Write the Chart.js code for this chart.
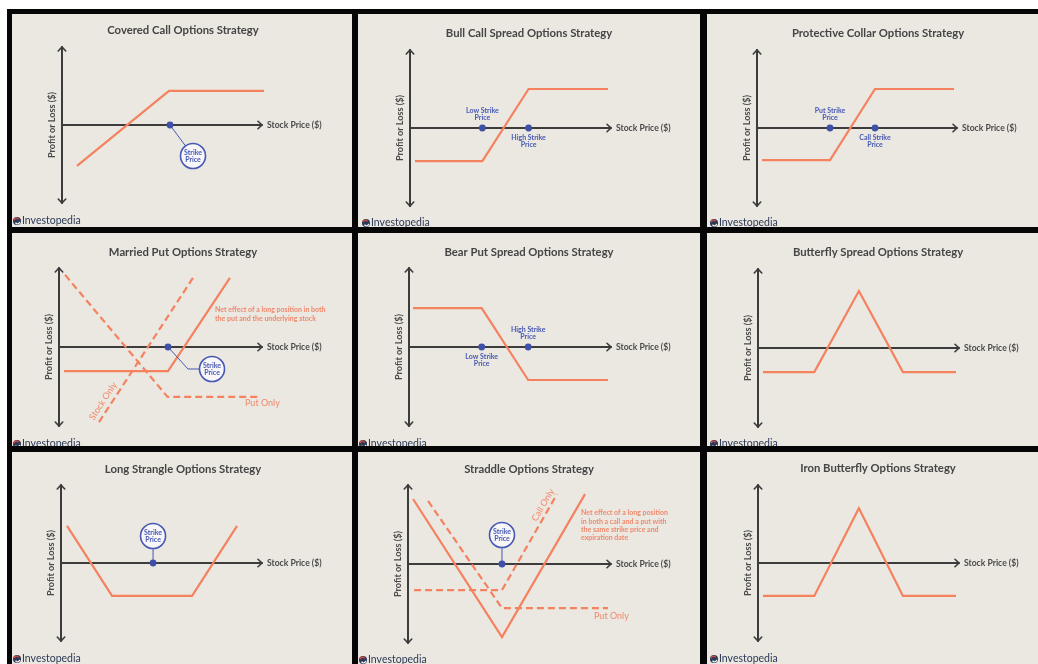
<!DOCTYPE html>
<html>
<head>
<meta charset="utf-8">
<script src="https://cdn.jsdelivr.net/npm/chart.js@4.4.0/dist/chart.umd.min.js"></script>
<style>
  html, body { margin: 0; padding: 0; background: #fff; overflow: hidden; }
  body { width: 1038px; height: 664px; position: relative; }
  #frame { position: absolute; left: 7px; top: 9px; right: 0; bottom: 0; background: #060606; }
  .panel { position: absolute; overflow: hidden; background: #ebe7e1; }
  .panel canvas { display: block; }
</style>
</head>
<body>
<div id="frame"></div>
<script>
// x: stock price (0 = y axis, 100 = arrow tip), y: profit or loss (0 = x axis)
const titles = [
  "Covered Call Options Strategy", "Bull Call Spread Options Strategy", "Protective Collar Options Strategy",
  "Married Put Options Strategy", "Bear Put Spread Options Strategy", "Butterfly Spread Options Strategy",
  "Long Strangle Options Strategy", "Straddle Options Strategy", "Iron Butterfly Options Strategy"
];

const coveredCallX = [7.5, 53.5, 101];
const coveredCallY = [-21, 17.5, 17.5];
const coveredCallStrikes = [54];

const bullCallX = [2.5, 36, 59, 98.5];
const bullCallY = [-17, -17, 20, 20];
const bullCallStrikes = [36, 59];

const collarX = [2.5, 36.5, 59, 98.5];
const collarY = [-16.5, -16.5, 20, 20];
const collarStrikes = [36.5, 59];

const marriedPutX = [2.5, 53.7, 84.2];
const marriedPutY = [-12.2, -12.2, 35];
const putOnlyX = [3, 53.5, 99];
const putOnlyY = [36.5, -25.3, -25.3];
const stockOnlyX = [19.7, 66];
const stockOnlyY = [-38, 35];
const marriedPutStrikes = [53.7];

const bearPutX = [2, 36, 59, 98.5];
const bearPutY = [19.7, 19.7, -16.7, -16.7];
const bearPutStrikes = [36, 59];

const butterflyX = [2.5, 28, 50.2, 72.1, 98.5];
const butterflyY = [-12.2, -12.2, 28.9, -12.2, -12.2];

const strangleX = [3, 25.4, 65.2, 87.6];
const strangleY = [19, -16.9, -16.9, 19];
const strangleStrikes = [45.8];

const straddleX = [2.5, 46.3, 87.2];
const straddleY = [32.9, -37, 35.4];
const straddlePutX = [9.9, 46.3, 98.5];
const straddlePutY = [31.9, -22.3, -22.3];
const straddleCallX = [3, 46.3, 73.4];
const straddleCallY = [-13.2, -13.2, 35.4];
const straddleStrikes = [46.3];

const ironFlyX = [2.5, 28, 50.2, 72.1, 98.5];
const ironFlyY = [-16.9, -16.9, 28.1, -16.9, -16.9];

const ORANGE = "#f4825f";
const NOTE = "#f0896c";
const BLUE = "#3f50a8";
const BLUE_TXT = "#4859b4";
const AXIS = "#3c3c3c";
const FONT = "Lato, 'Open Sans', sans-serif";

// panel rect [left, top, w, h], axes [yAxisX, arrowEnd, topTip, bottomTip] in page px
const panels = [
  { rect: [12, 14, 340, 213], axes: [62, 262, 47, 203], titleY: 16, logo: [5, 207],
    series: [[coveredCallX, coveredCallY]],
    strikes: [{ x: coveredCallStrikes[0], callout: [[23, 31]] }] },
  { rect: [358, 14, 342, 213], axes: [410, 611, 50, 206], titleY: 19, logo: [8, 209],
    series: [[bullCallX, bullCallY]],
    strikes: [{ x: bullCallStrikes[0], text: ["Low Strike", "Price"], above: true },
              { x: bullCallStrikes[1], text: ["High Strike", "Price"], above: false }] },
  { rect: [707, 14, 331, 213], axes: [757, 957, 50, 206], titleY: 19, logo: [7, 209],
    series: [[collarX, collarY]],
    strikes: [{ x: collarStrikes[0], text: ["Put Strike", "Price"], above: true },
              { x: collarStrikes[1], text: ["Call Strike", "Price"], above: false }] },
  { rect: [12, 233, 340, 213], axes: [59, 262, 268, 426], titleY: 19, logo: [5, 211],
    series: [[marriedPutX, marriedPutY], [putOnlyX, putOnlyY, true], [stockOnlyX, stockOnlyY, true]],
    strikes: [{ x: marriedPutStrikes[0], callout: [[20, 22], [44, 22]] }],
    notes: [{ at: [203, 77], lines: ["Net effect of a long position in both", "the put and the underlying stock"] }],
    tags: [{ text: "Put Only", at: [233, 170] }, { text: "Stock Only", at: [91, 168], rot: -57 }] },
  { rect: [358, 233, 342, 213], axes: [409, 611, 268, 426], titleY: 19, logo: [5, 211],
    series: [[bearPutX, bearPutY]],
    strikes: [{ x: bearPutStrikes[0], text: ["Low Strike", "Price"], above: false },
              { x: bearPutStrikes[1], text: ["High Strike", "Price"], above: true }] },
  { rect: [707, 233, 331, 213], axes: [758, 959, 269, 427], titleY: 19, logo: [7, 211],
    series: [[butterflyX, butterflyY]], strikes: [] },
  { rect: [12, 452, 340, 212], axes: [61, 262, 485, 641], titleY: 17, logo: [5, 207],
    series: [[strangleX, strangleY]],
    strikes: [{ x: strangleStrikes[0], callout: [[0, -27]] }] },
  { rect: [358, 452, 342, 212], axes: [408, 611, 485, 643], titleY: 17, logo: [5, 208],
    series: [[straddleX, straddleY], [straddlePutX, straddlePutY, true], [straddleCallX, straddleCallY, true]],
    strikes: [{ x: straddleStrikes[0], callout: [[0, -29]] }],
    notes: [{ at: [223, 61], lines: ["Net effect of a long position", "in both a call and a put with", "the same strike price and", "expiration date"] }],
    tags: [{ text: "Put Only", at: [236, 164] }, { text: "Call Only", at: [185, 53], rot: -60 }] },
  { rect: [707, 452, 331, 212], axes: [758, 959, 485, 641], titleY: 16, logo: [7, 207],
    series: [[ironFlyX, ironFlyY]], strikes: [] }
];

function chevron(ctx, x, y, ang) {
  const l = 5.5, s = 0.75;
  ctx.beginPath();
  ctx.moveTo(x - l * Math.cos(ang - s), y - l * Math.sin(ang - s));
  ctx.lineTo(x, y);
  ctx.lineTo(x - l * Math.cos(ang + s), y - l * Math.sin(ang + s));
  ctx.stroke();
}

function makeDecor(p, title) {
  return {
    id: "decor",
    beforeDatasetsDraw(chart) {
      const { ctx, chartArea: a, scales } = chart;
      const y0 = scales.y.getPixelForValue(0);
      ctx.save();
      ctx.strokeStyle = AXIS;
      ctx.lineWidth = 2;
      ctx.lineCap = "round";
      ctx.beginPath();
      ctx.moveTo(a.left, a.top); ctx.lineTo(a.left, a.bottom);
      ctx.moveTo(a.left, y0); ctx.lineTo(a.right, y0);
      ctx.stroke();
      ctx.lineWidth = 1.6;
      chevron(ctx, a.left, a.top, -Math.PI / 2);
      chevron(ctx, a.left, a.bottom, Math.PI / 2);
      chevron(ctx, a.right, y0, 0);

      ctx.fillStyle = "#454545";
      ctx.font = "700 11.3px " + FONT;
      ctx.textAlign = "center";
      ctx.textBaseline = "middle";
      ctx.fillText(title, 171, p.titleY);

      ctx.fillStyle = "#4a4a4a";
      ctx.font = "700 8.6px " + FONT;
      ctx.textAlign = "left";
      ctx.fillText("Stock Price ($)", a.right + 5, y0);
      ctx.save();
      ctx.translate(a.left - 10, y0);
      ctx.rotate(-Math.PI / 2);
      ctx.textAlign = "center";
      ctx.font = "700 9.1px " + FONT;
      ctx.fillText("Profit or Loss ($)", 0, 0);
      ctx.restore();
      ctx.restore();
    },
    afterDatasetsDraw(chart) {
      const { ctx, scales } = chart;
      const y0 = scales.y.getPixelForValue(0);
      ctx.save();
      ctx.textAlign = "center";
      ctx.textBaseline = "middle";
      p.strikes.forEach(s => {
        const px = scales.x.getPixelForValue(s.x);
        if (s.callout) {
          const pts = s.callout.map(d => [px + d[0], y0 + d[1]]);
          const c = pts[pts.length - 1];
          const r = 12.5;
          ctx.strokeStyle = BLUE_TXT;
          ctx.lineWidth = 1;
          ctx.beginPath();
          ctx.moveTo(px, y0);
          pts.forEach((q, i) => {
            if (i < pts.length - 1) ctx.lineTo(q[0], q[1]);
          });
          const prev = pts.length > 1 ? pts[pts.length - 2] : [px, y0];
          const ang = Math.atan2(c[1] - prev[1], c[0] - prev[0]);
          ctx.lineTo(c[0] - r * Math.cos(ang), c[1] - r * Math.sin(ang));
          ctx.stroke();
          ctx.fillStyle = "#f7f7f9";
          ctx.lineWidth = 1.6;
          ctx.beginPath();
          ctx.arc(c[0], c[1], r, 0, Math.PI * 2);
          ctx.fill();
          ctx.stroke();
          ctx.fillStyle = BLUE_TXT;
          ctx.font = "700 7px " + FONT;
          ctx.fillText("Strike", c[0], c[1] - 3.5);
          ctx.fillText("Price", c[0], c[1] + 3.5);
        }
        if (s.text) {
          ctx.fillStyle = BLUE_TXT;
          ctx.font = "700 7px " + FONT;
          const d = s.above ? [-17, -10] : [10, 17];
          ctx.fillText(s.text[0], px, y0 + d[0]);
          ctx.fillText(s.text[1], px, y0 + d[1]);
        }
        ctx.fillStyle = BLUE;
        ctx.beginPath();
        ctx.arc(px, y0, 3.4, 0, Math.PI * 2);
        ctx.fill();
      });

      ctx.textAlign = "left";
      (p.notes || []).forEach(n => {
        ctx.fillStyle = NOTE;
        ctx.font = "700 7px " + FONT;
        n.lines.forEach((t, i) => ctx.fillText(t, n.at[0], n.at[1] + i * 8.4));
      });
      (p.tags || []).forEach(t => {
        ctx.save();
        ctx.fillStyle = NOTE;
        ctx.font = "400 9px " + FONT;
        ctx.translate(t.at[0], t.at[1]);
        if (t.rot) {
          ctx.rotate(t.rot * Math.PI / 180);
          ctx.textAlign = "center";
        }
        ctx.fillText(t.text, 0, 0);
        ctx.restore();
      });

      // Investopedia mark
      const [lx, ly] = p.logo;
      ctx.fillStyle = "#2c3a57";
      ctx.beginPath();
      ctx.arc(lx, ly, 4, 0, Math.PI * 2);
      ctx.fill();
      ctx.strokeStyle = "#e4473d";
      ctx.lineWidth = 1.3;
      ctx.beginPath();
      ctx.arc(lx - 0.5, ly - 0.6, 2.2, Math.PI * 1.05, Math.PI * 1.85);
      ctx.stroke();
      ctx.strokeStyle = "#f2f2f2";
      ctx.beginPath();
      ctx.arc(lx + 0.5, ly + 0.6, 2.2, Math.PI * 0.05, Math.PI * 0.85);
      ctx.stroke();
      ctx.fillStyle = "#2c3a57";
      ctx.font = "400 10.5px " + FONT;
      ctx.fillText("Investopedia", lx + 5, ly);
      ctx.restore();
    }
  };
}

panels.forEach((p, i) => {
  const [left, top, w, h] = p.rect;
  const [ax, ae, at, ab] = p.axes;
  const div = document.createElement("div");
  div.className = "panel";
  div.style.cssText = `left:${left}px;top:${top}px;width:${w}px;height:${h}px`;
  const canvas = document.createElement("canvas");
  canvas.width = w;
  canvas.height = h;
  div.appendChild(canvas);
  document.body.appendChild(div);

  const datasets = p.series.map(([xs, ys, dashed]) => ({
    data: xs.map((v, k) => ({ x: v, y: ys[k] })),
    borderColor: ORANGE,
    borderWidth: 2.2,
    borderDash: dashed ? [7, 4] : [],
    pointRadius: 0,
    fill: false,
    tension: 0,
    clip: false
  }));

  new Chart(canvas, {
    type: "line",
    data: { datasets },
    options: {
      responsive: false,
      animation: false,
      devicePixelRatio: 1,
      layout: { padding: { left: ax - left, right: left + w - ae, top: at - top, bottom: top + h - ab } },
      scales: {
        x: { type: "linear", min: 0, max: 100, display: false },
        y: { type: "linear", min: -40, max: 40, display: false }
      },
      plugins: { legend: { display: false }, tooltip: { enabled: false }, title: { display: false } }
    },
    plugins: [makeDecor(p, titles[i])]
  });
});
</script>
</body>
</html>
